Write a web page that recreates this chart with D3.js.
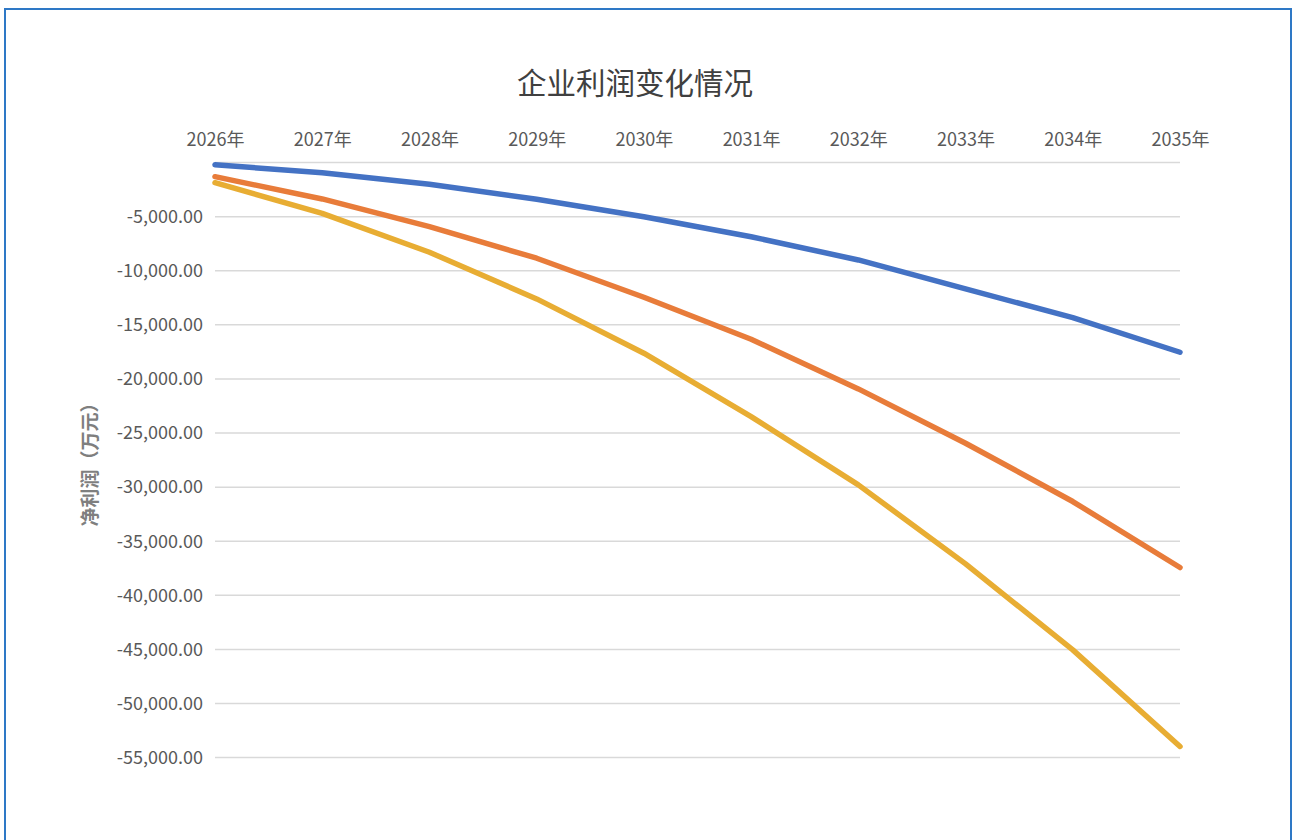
<!DOCTYPE html>
<html>
<head>
<meta charset="utf-8">
<script src="https://cdn.jsdelivr.net/npm/d3@7"></script>
<style>
  html, body { margin: 0; padding: 0; background: #fff; }
  svg { display: block; font-family: "Noto Sans CJK SC", "Noto Sans", sans-serif; }
</style>
</head>
<body>
<script>
// data
const years = ["2026年", "2027年", "2028年", "2029年", "2030年", "2031年", "2032年", "2033年", "2034年", "2035年"];
const seriesA = [-200, -930, -2000, -3390, -5000, -6850, -9000, -11680, -14330, -17530];
const seriesB = [-1300, -3360, -5920, -8840, -12450, -16330, -20920, -25940, -31330, -37430];
const seriesC = [-1860, -4690, -8290, -12600, -17620, -23480, -29790, -37090, -45040, -53970];
const yTicks = [0, -5000, -10000, -15000, -20000, -25000, -30000, -35000, -40000, -45000, -50000, -55000];
const colors = ["#4472C4", "#E87C3A", "#E8AD33"];

const width = 1293, height = 840;
const plotLeft = 215, plotRight = 1180, plotTop = 162.6, plotBottom = 757.6;

const svg = d3.select("body").append("svg")
    .attr("width", width)
    .attr("height", height);

// outer frame
svg.append("rect")
    .attr("x", 5).attr("y", 9)
    .attr("width", 1286).attr("height", 840)
    .attr("fill", "none")
    .attr("stroke", "#2E78C6")
    .attr("stroke-width", 2);

const x = d3.scalePoint()
    .domain(years)
    .range([plotLeft, plotRight]);

const y = d3.scaleLinear()
    .domain([-55000, 0])
    .range([plotBottom, plotTop]);

// gridlines
svg.append("g")
    .selectAll("line")
    .data(yTicks)
    .enter().append("line")
    .attr("x1", plotLeft).attr("x2", plotRight)
    .attr("y1", d => y(d)).attr("y2", d => y(d))
    .attr("stroke", "#D9D9D9")
    .attr("stroke-width", 1.5);

// y axis labels (zero label hidden like the reference)
const fmt = d3.format(",.2f");
const yAxis = d3.axisLeft(y)
    .tickValues(yTicks.filter(d => d !== 0))
    .tickSize(0)
    .tickPadding(12)
    .tickFormat(d => fmt(d).replace("−", "-"));

svg.append("g")
    .attr("transform", `translate(${plotLeft},0)`)
    .call(yAxis)
    .call(g => g.select(".domain").remove())
    .selectAll("text")
    .attr("font-size", 18)
    .attr("font-family", "'Noto Sans CJK SC', sans-serif")
    .attr("fill", "#595959");

// x axis labels on top
const xAxis = d3.axisTop(x)
    .tickSize(0)
    .tickPadding(17);

svg.append("g")
    .attr("transform", `translate(0,${plotTop})`)
    .call(xAxis)
    .call(g => g.select(".domain").remove())
    .selectAll("text")
    .attr("font-size", 18)
    .attr("font-family", "'Noto Sans CJK SC', sans-serif")
    .attr("fill", "#595959");

// lines
const line = d3.line()
    .x((d, i) => x(years[i]))
    .y(d => y(d));

svg.append("g")
    .selectAll("path")
    .data([seriesA, seriesB, seriesC])
    .enter().append("path")
    .attr("d", line)
    .attr("fill", "none")
    .attr("stroke", (d, i) => colors[i])
    .attr("stroke-width", 5.5)
    .attr("stroke-linecap", "round")
    .attr("stroke-linejoin", "round");

// title
svg.append("text")
    .attr("x", 635)
    .attr("y", 94)
    .attr("text-anchor", "middle")
    .attr("font-size", 29.5)
    .attr("font-weight", 400)
    .attr("fill", "#404040")
    .text("企业利润变化情况");

// y axis title
svg.append("text")
    .attr("transform", `translate(97,${(plotTop + plotBottom) / 2}) rotate(-90)`)
    .attr("text-anchor", "middle")
    .attr("font-size", 19)
    .attr("font-weight", 700)
    .attr("fill", "#7F7F7F")
    .text("净利润（万元）");
</script>
</body>
</html>
